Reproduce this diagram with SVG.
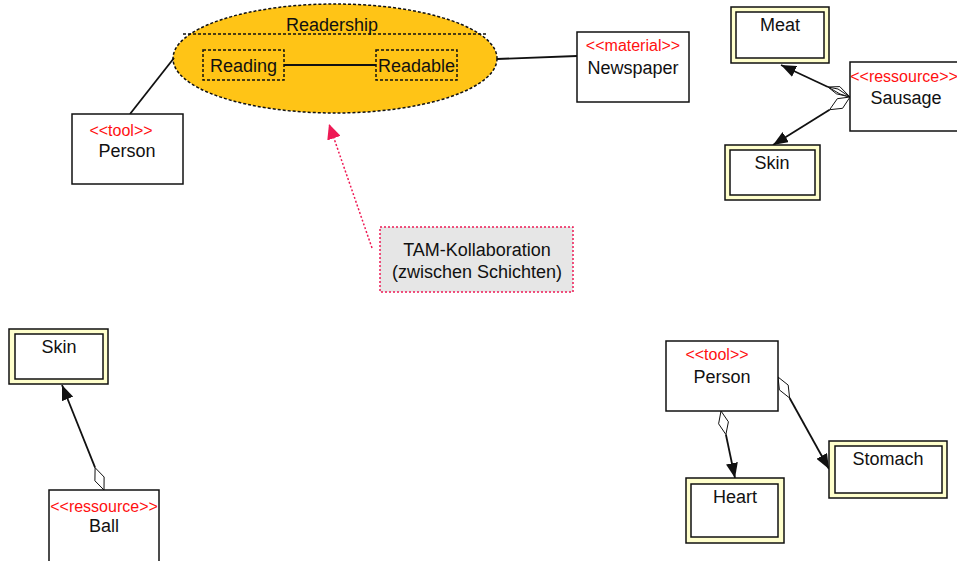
<svg xmlns="http://www.w3.org/2000/svg" width="957" height="561" viewBox="0 0 957 561">
<style>
text{font-family:"Liberation Sans",Arial,sans-serif;text-anchor:middle;fill:#111}
.n{font-size:18px}
.st{font-size:16px;fill:#ff1010}
.box{fill:#fff;stroke:#111;stroke-width:1.5}
.outer{fill:#ffffcc;stroke:#111;stroke-width:1.5}
.inner{fill:#fff;stroke:#111;stroke-width:1.5}
.dash{fill:none;stroke:#111;stroke-width:1.5;stroke-dasharray:3 2}
.edge{fill:none;stroke:#111;stroke-width:1.8}
.dia{fill:#fff;stroke:#111;stroke-width:1}
</style>
<defs>
<marker id="arr" markerUnits="userSpaceOnUse" markerWidth="16" markerHeight="12" refX="15" refY="6" orient="auto">
<path d="M0,0 L15,6 L0,12 z" fill="#111"/>
</marker>
<marker id="parr" markerUnits="userSpaceOnUse" markerWidth="16" markerHeight="14" refX="15" refY="7" orient="auto">
<path d="M0,0 L15,7 L0,14 z" fill="#ee1a55"/>
</marker>
</defs>
<g id="readership">
<ellipse cx="335" cy="58.5" rx="162" ry="54.5" fill="#ffc416" stroke="#111" stroke-width="1.5" stroke-dasharray="3 2"/>
<line class="dash" x1="183" y1="34" x2="487" y2="34"/>
<text class="n" x="332" y="31">Readership</text>
</g>
<g id="connectors">
<line class="edge" x1="130" y1="114" x2="174" y2="58"/>
<line class="edge" x1="497" y1="59" x2="577" y2="56"/>
<line class="edge" x1="284" y1="65" x2="376" y2="65"/>
<line class="edge" x1="828" y1="87" x2="781" y2="65" marker-end="url(#arr)"/>
<polygon class="dia" points="850,97 839.8,86.6 828,87 836.4,93.8"/>
<polygon class="dia" points="850,97 838,89 828,87 840,94"/>
<line class="edge" x1="829.6" y1="109.7" x2="773" y2="145" marker-end="url(#arr)"/>
<polygon class="dia" points="850,97 842.6,108.3 829.6,109.7 837.3,98.7"/>
<line class="edge" x1="95.1" y1="467.7" x2="62" y2="385" marker-end="url(#arr)"/>
<polygon class="dia" points="104,490 104.1,477 95.1,467.7 94.9,480.8"/>
<line class="edge" x1="725.9" y1="434.5" x2="735" y2="478" marker-end="url(#arr)"/>
<polygon class="dia" points="721,411 728.4,421.8 725.9,434.5 718.6,423.8"/>
<line class="edge" x1="789.6" y1="398" x2="829" y2="469" marker-end="url(#arr)"/>
<polygon class="dia" points="778,377 788.2,385.1 789.6,398 779.4,389.9"/>
<line x1="372" y1="248" x2="329" y2="124" stroke="#ee1a55" stroke-width="1.5" stroke-dasharray="2 2" marker-end="url(#parr)"/>
</g>
<g id="reading">
<rect class="dash" x="203" y="50" width="81" height="30"/>
<text class="n" x="243.5" y="72">Reading</text>
</g>
<g id="readable">
<rect class="dash" x="376" y="50" width="81" height="30"/>
<text class="n" x="416.5" y="72">Readable</text>
</g>
<g id="person1">
<rect class="box" x="72" y="114" width="111" height="70"/>
<text class="st" x="121" y="136">&lt;&lt;tool&gt;&gt;</text>
<text class="n" x="127" y="157">Person</text>
</g>
<g id="newspaper">
<rect class="box" x="577" y="32" width="112" height="70"/>
<text class="st" x="633" y="51">&lt;&lt;material&gt;&gt;</text>
<text class="n" x="633" y="74">Newspaper</text>
</g>
<g id="meat">
<rect class="outer" x="731" y="7" width="98" height="56"/>
<rect class="inner" x="736" y="12" width="88" height="46"/>
<text class="n" x="780" y="31">Meat</text>
</g>
<g id="sausage">
<rect class="box" x="850" y="62" width="112" height="69"/>
<text class="st" x="904" y="82">&lt;&lt;ressource&gt;&gt;</text>
<text class="n" x="906" y="104">Sausage</text>
</g>
<g id="skin1">
<rect class="outer" x="725" y="145" width="95" height="55"/>
<rect class="inner" x="730" y="150" width="85" height="45"/>
<text class="n" x="772" y="169">Skin</text>
</g>
<g id="note">
<rect x="380" y="227" width="193" height="65" fill="#e6e6e6" stroke="#ee1a55" stroke-width="1.5" stroke-dasharray="2 2"/>
<text class="n" x="477" y="256">TAM-Kollaboration</text>
<text class="n" x="477" y="278">(zwischen Schichten)</text>
</g>
<g id="skin2">
<rect class="outer" x="9" y="329" width="99" height="55"/>
<rect class="inner" x="15" y="334" width="88" height="45"/>
<text class="n" x="59" y="353">Skin</text>
</g>
<g id="ball">
<rect class="box" x="49" y="490" width="110" height="75"/>
<text class="st" x="104" y="512">&lt;&lt;ressource&gt;&gt;</text>
<text class="n" x="104" y="532">Ball</text>
</g>
<g id="person2">
<rect class="box" x="666" y="341" width="112" height="70"/>
<text class="st" x="717" y="360">&lt;&lt;tool&gt;&gt;</text>
<text class="n" x="722" y="383">Person</text>
</g>
<g id="heart">
<rect class="outer" x="686" y="478" width="98" height="65"/>
<rect class="inner" x="691" y="484" width="87" height="53"/>
<text class="n" x="735" y="503">Heart</text>
</g>
<g id="stomach">
<rect class="outer" x="829" y="441" width="118" height="57"/>
<rect class="inner" x="835" y="446" width="107" height="47"/>
<text class="n" x="888" y="465">Stomach</text>
</g>
</svg>
